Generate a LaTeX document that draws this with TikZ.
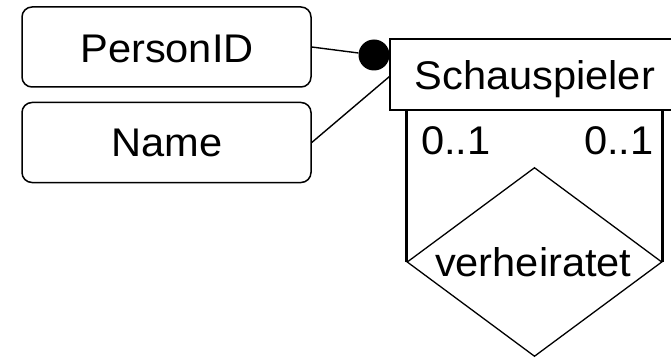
\documentclass[tikz,border=0pt]{standalone}
\usepackage{fontspec}
\usepackage{graphicx}
\setmainfont{Liberation Sans}
\usetikzlibrary{shapes.geometric}
\newcommand{\tx}[1]{\scalebox{1.04}[1]{#1}}
\begin{document}
\begin{tikzpicture}[x=1pt,y=-1pt,
 attr/.style={draw, rounded corners=10pt, line width=1.5pt, minimum width=289pt, minimum height=80pt, inner sep=0pt},
 ent/.style={draw, line width=1.5pt, minimum width=290pt, minimum height=71pt, inner sep=0pt},
 rel/.style={draw, diamond, line width=1.3pt, minimum width=255pt, minimum height=189pt, inner sep=0pt},
 lbl/.style={inner sep=0pt, anchor=base, font=\fontsize{40}{48}\selectfont},
 conn/.style={line width=1.4pt},
 leg/.style={line width=2.6pt}]
\useasboundingbox (0,0) rectangle (671,358);
\node[attr] (pid) at (166.5,47) {};
\node[attr] (name) at (166.5,142.5) {};
\node[ent] (ent) at (535,74.7) {};
\node[rel] (rel) at (534.5,262) {};
\node[circle, fill, inner sep=0pt, minimum size=31pt] (dot) at (374,55) {};
\node[lbl] (tpid) at (167,62.7) {\tx{PersonID}};
\node[lbl] (tname) at (167,156.7) {\tx{Name}};
\node[lbl] (tent) at (534.7,90) {\tx{Schauspieler}};
\node[lbl] (card1) at (455.8,155) {\tx{0..1}};
\node[lbl] (card2) at (618.7,155) {\tx{0..1}};
\node[lbl] (trel) at (533.3,276.7) {\tx{verheiratet}};
\draw[conn] (pid.east) -- (dot);
\draw[conn] (name.east) -- ([yshift=-2pt]ent.west);
\draw[leg] (rel.west) -- (rel.west |- ent.south);
\draw[leg] (rel.east) -- ([yshift=2pt]rel.east |- ent.south);
\end{tikzpicture}
\end{document}
